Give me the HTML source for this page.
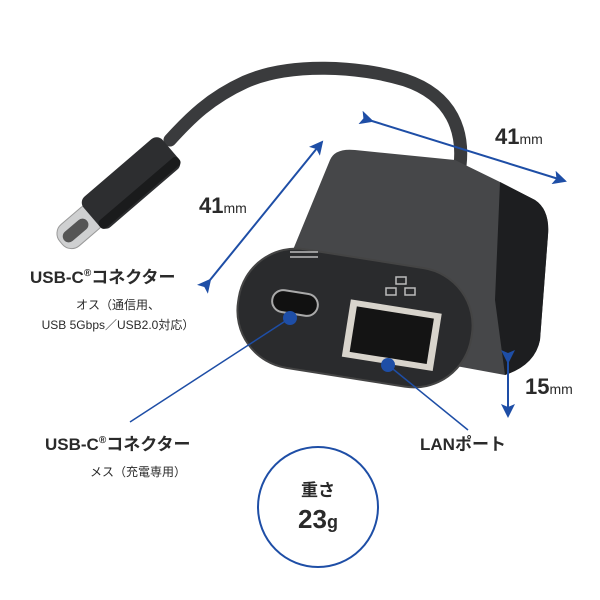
<!DOCTYPE html>
<html><head><meta charset="utf-8"><style>
body{margin:0;background:#fff;width:600px;height:600px;overflow:hidden}
svg{display:block}
text{font-family:"Liberation Sans","Noto Sans CJK JP",sans-serif;fill:#2a2a2a}
</style></head><body>
<svg width="600" height="600" viewBox="0 0 600 600">
<defs>
<marker id="ah2" markerWidth="14" markerHeight="14" refX="12" refY="7" orient="auto" markerUnits="userSpaceOnUse"><path d="M0,0 L14,7 L0,14 L3,7z" fill="#1e4ea6"/></marker>
</defs>
<!-- cable -->
<path d="M458,178 C468,130 450,95 405,80 C360,66 290,62 245,82 C210,98 190,118 170,140" fill="none" stroke="#3a3b3d" stroke-width="13" stroke-linecap="round"/>
<!-- plug -->
<g transform="translate(131,183) rotate(-40.6)">
<rect x="-92" y="-14" width="50" height="28" rx="12" fill="#cfd0d1" stroke="#999"/>
<rect x="-88" y="-6" width="30" height="12" rx="6" fill="#555"/>
<rect x="-52" y="-20" width="104" height="40" rx="8" fill="#2d2e30"/>
<rect x="-52" y="8" width="104" height="10" rx="4" fill="#1a1b1c"/>
</g>
<!-- body top/side -->
<path d="M355,150 L455,160 L500,182 L535,200 Q550,210 548,235 L540,340 Q535,365 505,375 L260,330 L330,160 Q335,148 355,150z" fill="#464749"/>
<path d="M500,182 L535,200 Q550,210 548,235 L540,340 Q535,365 505,375 L495,300z" fill="#1d1e20"/>
<!-- front -->
<g transform="translate(355,318) rotate(9)">
<rect x="-118" y="-60" width="236" height="120" rx="58" fill="#2a2b2d" stroke="#444" stroke-width="2"/>
</g>
<rect x="272" y="292" width="46" height="22" rx="11" fill="#111" stroke="#aaa" stroke-width="2" transform="rotate(9 295 303)"/>
<g transform="rotate(9 390 340)">
<rect x="345" y="306" width="92" height="58" fill="#d8d4cc"/>
<rect x="352" y="312" width="78" height="46" fill="#141414"/>
</g>
<g stroke="#bbb" stroke-width="1.5" fill="none">
<path d="M290,252 h28 M290,257 h28"/>
<rect x="396" y="277" width="10" height="7"/><rect x="386" y="288" width="10" height="7"/><rect x="405" y="288" width="10" height="7"/>
</g>
<!-- arrows -->
<line x1="210" y1="280" x2="322" y2="142" stroke="#1e4ea6" stroke-width="2" marker-end="url(#ah2)" marker-start="url(#ah2)"/>
<line x1="372" y1="121" x2="565" y2="181" stroke="#1e4ea6" stroke-width="2" marker-end="url(#ah2)" marker-start="url(#ah2)"/>
<line x1="508" y1="362" x2="508" y2="416" stroke="#1e4ea6" stroke-width="2" marker-end="url(#ah2)" marker-start="url(#ah2)"/>
<!-- leaders -->
<line x1="290" y1="318" x2="130" y2="422" stroke="#1e4ea6" stroke-width="1.5"/>
<circle cx="290" cy="318" r="7" fill="#1e4ea6"/>
<line x1="388" y1="365" x2="468" y2="430" stroke="#1e4ea6" stroke-width="1.5"/>
<circle cx="388" cy="365" r="7" fill="#1e4ea6"/>
<!-- text -->
<text x="495" y="144" font-size="22" font-weight="bold">41<tspan font-size="14" font-weight="normal">mm</tspan></text>
<text x="199" y="213" font-size="22" font-weight="bold">41<tspan font-size="14" font-weight="normal">mm</tspan></text>
<text x="525" y="394" font-size="22" font-weight="bold">15<tspan font-size="14" font-weight="normal">mm</tspan></text>
<text x="30" y="283" font-size="17" font-weight="bold">USB-C<tspan font-size="10" dy="-7">®</tspan><tspan dy="7">コネクター</tspan></text>
<text x="118" y="309" font-size="12" text-anchor="middle">オス（通信用、</text>
<text x="118" y="329" font-size="12" text-anchor="middle">USB 5Gbps／USB2.0対応）</text>
<text x="45" y="450" font-size="17" font-weight="bold">USB-C<tspan font-size="10" dy="-7">®</tspan><tspan dy="7">コネクター</tspan></text>
<text x="90" y="476" font-size="12">メス（充電専用）</text>
<text x="420" y="450" font-size="17" font-weight="bold">LANポート</text>
<circle cx="318" cy="507" r="60" fill="#fff" stroke="#1e4ea6" stroke-width="2"/>
<text x="318" y="496" font-size="17" font-weight="bold" text-anchor="middle">重さ</text>
<text x="318" y="528" font-size="26" font-weight="bold" text-anchor="middle">23<tspan font-size="18">g</tspan></text>
</svg>
</body></html>
